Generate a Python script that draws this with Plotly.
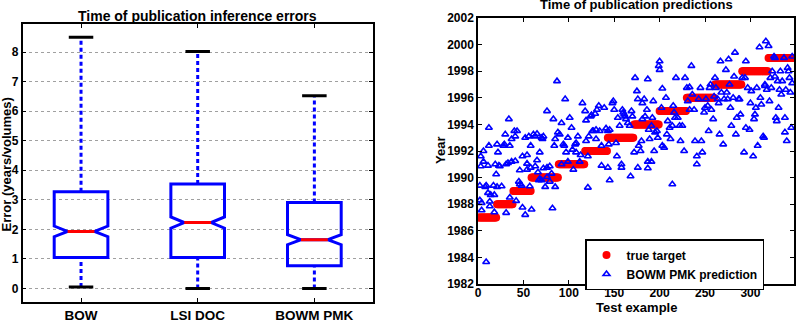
import plotly.graph_objects as go

# ---------------- Left panel data (box statistics) ----------------
methods = ["BOW", "LSI DOC", "BOWM PMK"]
q1 = [1.05, 1.05, 0.77]
median = [1.93, 2.23, 1.65]
q3 = [3.27, 3.53, 2.91]
lower_whisker = [0.05, 0.0, 0.0]
upper_whisker = [8.5, 8.02, 6.52]
notch_span = [0.18, 0.19, 0.17]
error_ticks = [0, 1, 2, 3, 4, 5, 6, 7, 8]

# ---------------- Right panel data ----------------
target_years = [1987, 1988, 1989, 1990, 1991, 1992, 1993, 1994, 1995, 1996, 1997, 1998, 1999]
target_counts = [20, 18, 20, 30, 29, 25, 29, 28, 30, 31, 30, 29, 28]

pred_example = [
    2, 3, 6, 2, 4, 4, 8, 9, 11, 9, 11, 13, 14, 13, 17, 18, 19, 20, 21, 18, 23, 24, 26, 31, 31, 33, 35, 37,
    41, 42, 45, 46, 46, 48, 49, 52, 54, 54, 58, 59, 57, 63, 65, 66, 67, 68, 70, 72, 74, 76, 76, 79, 79, 81,
    82, 85, 92, 99, 105, 112, 121, 136, 143, 145, 158, 158, 168, 176, 187, 187, 191, 214, 241,
    12, 12, 3, 6, 21, 22, 29, 30, 28, 34, 35, 37, 40, 43, 41, 49, 52, 56, 54, 58, 61, 63, 65, 68, 70, 72,
    71, 76, 83, 84, 85, 87, 88, 90, 92, 94, 96, 95, 97, 99, 101, 103, 104, 107, 108, 108, 110, 113, 115,
    118, 119, 119, 121, 122, 124, 125, 126, 127, 129, 130, 130, 131, 133, 134, 136, 139, 141, 143, 144,
    145, 148, 149, 150, 152, 153, 154, 156, 159, 160, 161, 162, 163, 165, 167, 169, 170, 172, 173, 175,
    176, 177, 179, 180, 181, 181, 183, 184, 186, 187, 188, 189, 191, 192, 193, 194, 195, 197, 198, 199,
    200, 200, 202, 203, 203, 205, 207, 208, 209, 211, 212, 214, 215, 216, 217, 218, 220, 222, 223, 225,
    227, 228, 230, 231, 233, 233, 235, 236, 238, 239, 241, 243, 245, 246, 247, 249, 250, 251, 253, 254,
    255, 256, 257, 259, 260, 261, 262, 264, 265, 266, 267, 268, 270, 271, 273, 274, 275, 276, 277, 278,
    279, 281, 282, 283, 284, 285, 287, 288, 289, 291, 293, 294, 295, 295, 297, 299, 300, 301, 303, 304,
    305, 306, 307, 308, 310, 311, 312, 314, 315, 316, 316, 317, 318, 320, 321, 322, 323, 324, 326, 327,
    327, 328, 329, 330, 331, 332, 333, 334, 335, 337, 338, 338, 339, 340, 341, 342, 343, 344, 345, 346, 346,
]
pred_year = [
    1989.4, 1990.85, 1991.2, 1988.3, 1988.1, 1987.55, 1989.3, 1989.4, 1988.85, 1983.65, 1990.9, 1988.2,
    1988.7, 1987.85, 1989.4, 1988.7, 1991.0, 1990.25, 1989.3, 1987.4, 1990.9, 1990.85, 1989.35, 1987.35,
    1991.0, 1991.1, 1988.5, 1991.2, 1991.25, 1988.25, 1989.7, 1990.55, 1989.5, 1989.4, 1987.75, 1987.2,
    1991.05, 1990.6, 1990.75, 1987.6, 1989.35, 1990.85, 1991.3, 1990.4, 1989.8, 1989.9, 1989.8, 1990.7,
    1989.3, 1990.75, 1990.05, 1990.85, 1989.7, 1990.3, 1987.7, 1989.3, 1991.0, 1991.2, 1990.6, 1991.2,
    1989.25, 1990.9, 1990.75, 1989.8, 1991.0, 1990.75, 1990.1, 1990.75, 1990.7, 1991.2, 1991.2, 1989.5,
    1991.0,
    1993.75, 1992.4, 1991.6, 1992.0, 1992.5, 1991.9, 1992.5, 1993.25, 1992.4, 1994.4, 1992.4, 1992.9,
    1993.5, 1993.5, 1993.1, 1991.6, 1993.0, 1993.1, 1991.7, 1992.4, 1993.25, 1993.1, 1993.3, 1991.9,
    1993.0, 1993.1, 1992.9, 1995.0, 1994.4, 1992.4, 1992.9, 1997.25, 1993.4, 1993.25, 1994.1, 1992.5,
    1995.9, 1992.4, 1991.9, 1993.0, 1994.5, 1993.75, 1992.1, 1992.5, 1992.6, 1991.9, 1993.1, 1991.7,
    1995.6, 1995.0, 1994.3, 1992.75, 1991.6, 1993.1, 1994.6, 1994.7, 1993.5, 1993.5, 1994.8, 1993.6,
    1992.9, 1995.1, 1995.4, 1993.5, 1992.4, 1995.25, 1993.7, 1993.5, 1992.5, 1993.6, 1995.6, 1995.75,
    1995.1, 1992.6, 1991.6, 1994.5, 1993.9, 1995.1, 1994.9, 1994.75, 1994.6, 1994.4, 1994.1, 1993.9,
    1995.0, 1994.6, 1991.9, 1997.5, 1996.5, 1995.9, 1992.4, 1992.0, 1992.75, 1994.4, 1995.6, 1995.9,
    1994.6, 1995.1, 1997.4, 1993.6, 1992.9, 1993.9, 1994.5, 1995.75, 1992.0, 1993.4, 1993.5, 1993.0,
    1998.4, 1998.75, 1998.1, 1995.25, 1996.7, 1992.4, 1992.25, 1996.0, 1993.25, 1994.25, 1993.75, 1992.9,
    1993.9, 1995.4, 1994.9, 1994.5, 1997.5, 1994.5, 1993.9, 1992.75, 1993.9, 1992.0, 1997.5, 1996.75,
    1995.75, 1996.8, 1995.1, 1998.4, 1996.25, 1995.1, 1992.75, 1991.6, 1995.9, 1996.75, 1992.75, 1991.9,
    1994.9, 1995.25, 1995.9, 1995.4, 1993.5, 1996.75, 1997.0, 1995.1, 1994.4, 1996.1, 1997.5, 1996.75,
    1995.9, 1995.6, 1993.25, 1998.75, 1996.4, 1992.5, 1995.9, 1998.1, 1996.4, 1995.9, 1998.9, 1997.0,
    1995.25, 1993.9, 1996.0, 1997.6, 1999.4, 1993.25, 1994.5, 1995.9, 1995.9, 1994.75, 1997.5, 1991.9,
    1997.5, 1998.75, 1993.75, 1996.75, 1993.6, 1995.6, 1996.5, 1991.6, 1994.4, 1994.75, 1995.25, 1996.75,
    1992.4, 1999.8, 1996.0, 1995.5, 1993.1, 1993.0, 1997.0, 1996.9, 2000.25, 1996.6, 1999.9, 1995.75,
    1997.5, 1996.75, 1998.0, 1999.1, 1999.0, 1997.6, 1994.5, 1994.25, 1997.25, 1995.25, 1996.6, 1998.0,
    1996.25, 1997.25, 1999.0, 1993.4, 1994.5, 1996.6, 1992.75, 1998.25, 1998.0, 1997.5, 1996.4, 1993.75,
    1997.1, 1999.1,
]

year_ticks = list(range(1982, 2003, 2))
example_ticks = [0, 50, 100, 150, 200, 250, 300]

# ---------------- Build figure ----------------
W, H = 798, 322
BLUE = "#0000ff"
RED = "#ff0000"
FONT = "Liberation Sans"

fig = go.Figure()
positions = [i + 1 for i in range(len(methods))]
box_w = 0.46
cap_half = 0.105

# whiskers (dashed blue)
wx, wy = [], []
for p, lo, a, b, hi in zip(positions, lower_whisker, q1, q3, upper_whisker):
    wx += [p, p, None, p, p, None]
    wy += [lo, a, None, b, hi, None]
fig.add_trace(go.Scatter(x=wx, y=wy, mode="lines", line=dict(color=BLUE, width=3, dash="4px,3px"),
                         showlegend=False, hoverinfo="skip", xaxis="x", yaxis="y"))

# notched boxes
fig.add_trace(go.Box(x=positions, q1=q1, median=median, q3=q3, lowerfence=q1, upperfence=q3,
                     notchspan=notch_span, notched=True, notchwidth=0.25, width=box_w,
                     line=dict(color=BLUE, width=3), fillcolor="rgba(255,255,255,0)",
                     showlegend=False, xaxis="x", yaxis="y", hoverinfo="skip"))

# caps (black)
cx, cy = [], []
for p, lo, hi in zip(positions, lower_whisker, upper_whisker):
    cx += [p - cap_half, p + cap_half, None, p - cap_half, p + cap_half, None]
    cy += [lo, lo, None, hi, hi, None]
fig.add_trace(go.Scatter(x=cx, y=cy, mode="lines", line=dict(color="black", width=3),
                         showlegend=False, hoverinfo="skip", xaxis="x", yaxis="y"))

# medians (red)
mx, my = [], []
for p, m in zip(positions, median):
    mx += [p - box_w / 4, p + box_w / 4, None]
    my += [m, m, None]
fig.add_trace(go.Scatter(x=mx, y=my, mode="lines", line=dict(color=RED, width=3),
                         showlegend=False, hoverinfo="skip", xaxis="x", yaxis="y"))

# right panel
target_x, target_y = [], []
n = 0
for yr, c in zip(target_years, target_counts):
    for _ in range(c):
        n += 1
        target_x.append(n)
        target_y.append(yr)

fig.add_trace(go.Scatter(x=target_x, y=target_y, mode="markers", name="true target",
                         marker=dict(color=RED, size=8, symbol="circle", line=dict(width=0)),
                         xaxis="x2", yaxis="y2"))
fig.add_trace(go.Scatter(x=pred_example, y=pred_year, mode="markers", name="BOWM PMK prediction",
                         marker=dict(color=BLUE, size=6, symbol="triangle-up-open", line=dict(color=BLUE, width=1.6)),
                         xaxis="x2", yaxis="y2"))

def px(v):
    return v / W

def py(v):
    return 1 - v / H

axis_common = dict(showline=True, linecolor="black", linewidth=1.5, mirror="ticks", ticks="inside",
                   ticklen=4, tickcolor="black", zeroline=False, automargin=False)

fig.update_layout(
    width=W, height=H,
    margin=dict(l=0, r=0, t=0, b=0),
    paper_bgcolor="white", plot_bgcolor="white",
    font=dict(family=FONT, color="black", size=12, weight="bold"),
    xaxis=dict(domain=[px(22.7), px(372.7)], range=[0.5, 3.5], tickvals=positions, ticktext=methods,
               tickfont=dict(size=13.5), showgrid=False, anchor="y", **axis_common),
    yaxis=dict(domain=[py(301.7), py(24)], range=[-0.45, 8.95], tickvals=error_ticks,
               tickfont=dict(size=12), showgrid=True, gridcolor="#a0a0a0", griddash="dot", gridwidth=1,
               anchor="x", **axis_common),
    xaxis2=dict(domain=[px(478), px(794)], range=[0, 348], tickvals=example_ticks,
                tickfont=dict(size=12), showgrid=False, anchor="y2", ticklabelstandoff=-3, **axis_common),
    yaxis2=dict(domain=[py(284), py(18)], range=[1982, 2002], tickvals=year_ticks,
                tickfont=dict(size=12), showgrid=False, anchor="x2", **axis_common),
    legend=dict(x=px(585), y=py(239), xanchor="left", yanchor="top", bordercolor="black", borderwidth=1.5,
                bgcolor="white", font=dict(size=12), tracegroupgap=0),
    annotations=[
        dict(text="Time of publication inference errors", x=px(197.5), y=py(16), xref="paper", yref="paper",
             showarrow=False, xanchor="center", yanchor="middle", font=dict(size=14)),
        dict(text="Time of publication predictions", x=px(636), y=py(4), xref="paper", yref="paper",
             showarrow=False, xanchor="center", yanchor="middle", font=dict(size=13)),
        dict(text="Error (years/volumes)", x=px(5.5), y=py(165), xref="paper", yref="paper", textangle=-90,
             showarrow=False, xanchor="center", yanchor="middle", font=dict(size=13)),
        dict(text="Year", x=px(440), y=py(151), xref="paper", yref="paper", textangle=-90,
             showarrow=False, xanchor="center", yanchor="middle", font=dict(size=13)),
        dict(text="Test example", x=px(636.5), y=py(307), xref="paper", yref="paper",
             showarrow=False, xanchor="center", yanchor="middle", font=dict(size=13)),
    ],
)

fig.write_html("out.html")
